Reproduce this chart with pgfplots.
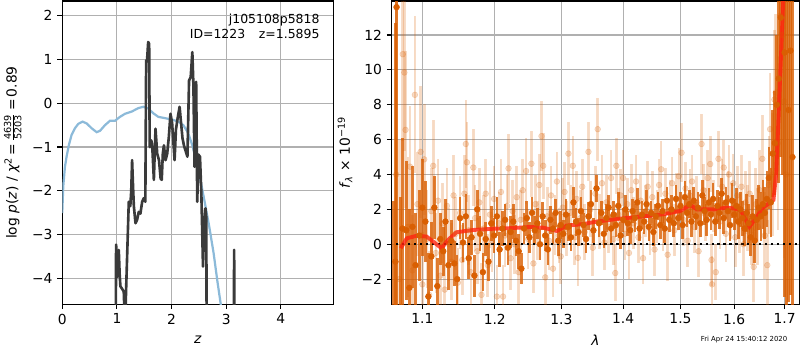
\documentclass[border=0pt]{standalone}
\usepackage{fontspec}
\setmainfont{DejaVu Sans}
\usepackage{amsmath}
\usepackage{pgfplots}
\pgfplotsset{compat=1.18}
\usepackage{pgfplotstable}

\definecolor{zblue}{RGB}{140,186,217}
\definecolor{zgray}{RGB}{58,58,58}
\definecolor{dorange}{RGB}{217,95,2}
\definecolor{gridc}{RGB}{176,176,176}
\definecolor{mred}{RGB}{255,35,15}

\pgfplotstableread{
z v
0.000 -2.51
0.018 -1.90
0.049 -1.45
0.079 -1.22
0.122 -0.95
0.171 -0.72
0.232 -0.57
0.293 -0.47
0.372 -0.42
0.446 -0.46
0.537 -0.57
0.629 -0.66
0.690 -0.63
0.781 -0.50
0.873 -0.40
0.964 -0.40
1.056 -0.31
1.148 -0.24
1.270 -0.19
1.392 -0.11
1.484 -0.08
1.575 -0.12
1.667 -0.23
1.758 -0.31
1.880 -0.34
2.003 -0.37
2.125 -0.42
2.216 -0.50
2.308 -0.69
2.387 -0.99
2.460 -1.37
2.540 -1.83
2.610 -2.28
2.690 -2.82
2.770 -3.43
2.840 -4.08
2.900 -4.59
2.950 -5.10
}\pztab

\pgfplotstableread{
z v
0.970 -8
0.985 -3.23
1.000 -3.50
1.015 -3.96
1.034 -3.35
1.050 -3.90
1.064 -4.18
1.100 -4.25
1.125 -4.30
1.145 -5.00
1.160 -4.60
1.217 -2.25
1.245 -2.35
1.262 -2.00
1.278 -1.30
1.295 -1.90
1.310 -2.35
1.340 -2.74
1.370 -2.66
1.400 -2.48
1.430 -2.52
1.462 -2.25
1.490 -2.17
1.520 -2.25
1.535 0.98
1.550 0.95
1.572 1.40
1.590 1.36
1.600 -1.00
1.630 -0.85
1.650 -1.07
1.676 -1.75
1.706 -0.58
1.737 -1.15
1.770 -1.30
1.800 -1.72
1.820 -1.75
1.840 -1.15
1.860 -0.96
1.890 -1.30
1.920 -1.15
1.950 -0.77
1.980 -0.24
2.010 -0.45
2.055 -1.30
2.080 -0.60
2.110 -0.35
2.147 -0.08
2.170 -0.40
2.200 -0.80
2.230 -0.98
2.260 -1.10
2.290 -1.22
2.320 0.52
2.350 0.60
2.380 1.17
2.400 0.40
2.420 -1.45
2.450 0.49
2.470 -2.25
2.490 -1.17
2.520 -1.22
2.545 -2.06
2.575 -3.73
2.600 -2.70
2.620 -2.40
2.635 -2.60
2.650 -8
3.130 -8
3.145 -3.35
3.160 -8
}\chitab

\pgfplotstableread{
l f e
1.0625 -8.0 10.5
1.0650 -1.0 13.7
1.0665 13.6 18
1.0715 -4.0 6.7
1.0740 0.9 5.2
1.0790 0.8 4.0
1.0830 -2.5 4.5
1.0870 1.0 3.5
1.0910 -1.2 3.0
1.0960 0.5 2.6
1.1000 2.1 2.8
1.1040 1.3 2.3
1.1080 -3.0 2.5
1.1120 -0.7 2.0
1.1160 2.1 1.8
1.1200 -2.4 1.6
1.1240 0.3 1.5
1.1280 -0.4 1.4
1.1310 1.3 1.3
1.1350 -1.2 1.4
1.1390 0.2 1.2
1.1430 -1.1 1.3
1.1470 -2.0 1.4
1.1510 1.5 1.2
1.1550 0.1 1.1
1.1590 1.6 1.3
1.1630 -0.8 1.2
1.1670 0.4 1.0
1.1710 -1.8 1.2
1.1750 2.0 1.1
1.1790 0.6 1.0
1.1830 -1.6 1.1
1.1870 0.3 1.0
1.1910 -1.0 1.1
1.1950 1.2 1.0
1.1990 0.5 1.0
1.2030 1.6 1.1
1.2070 -0.3 1.0
1.2110 0.9 1.0
1.2150 1.4 0.9
1.2190 -0.2 1.0
1.2230 0.7 0.9
1.2270 1.3 1.0
1.2310 0.2 0.9
1.2350 -0.4 1.0
1.2390 -1.4 0.9
1.2430 0.9 0.9
1.2470 1.5 1.0
1.2510 0.4 0.9
1.2550 1.8 0.9
1.2590 0.8 0.8
1.2630 1.2 0.9
1.2670 0.0 0.9
1.2710 1.6 0.8
1.2750 0.5 0.9
1.2790 -0.3 0.9
1.2830 1.4 0.8
1.2870 0.9 0.9
1.2910 1.8 0.8
1.2950 0.2 0.9
1.2990 1.1 0.8
1.3030 0.6 0.8
1.3070 1.7 0.9
1.3110 1.0 0.8
1.3150 0.4 0.8
1.3190 2.4 0.9
1.3230 1.3 0.8
1.3270 0.7 0.8
1.3310 1.9 0.8
1.3350 1.1 0.7
1.3390 0.3 0.8
1.3430 1.6 0.8
1.3470 2.3 0.8
1.3510 0.8 0.7
1.3560 3.2 0.8
1.3600 1.2 0.8
1.3640 1.8 0.7
1.3680 0.6 0.8
1.3720 1.5 0.8
1.3760 2.1 0.7
1.3800 0.9 0.8
1.3840 1.7 0.8
1.3880 1.1 0.7
1.3920 2.2 0.8
1.3960 0.5 0.8
1.4000 1.4 0.7
1.4040 2.0 0.8
1.4080 1.2 0.7
1.4120 0.8 0.8
1.4160 1.9 0.7
1.4200 1.5 0.8
1.4240 2.4 0.8
1.4280 0.9 0.7
1.4320 1.7 0.8
1.4360 1.3 0.7
1.4400 2.3 0.8
1.4440 1.0 0.8
1.4480 1.8 0.7
1.4520 0.7 0.8
1.4560 1.6 0.7
1.4600 2.2 0.8
1.4640 1.1 0.8
1.4680 1.9 0.7
1.4720 0.9 0.8
1.4760 2.5 0.8
1.4800 1.4 0.7
1.4840 2.0 0.8
1.4880 1.2 0.8
1.4920 2.6 0.8
1.4960 1.5 0.7
1.5000 2.2 0.8
1.5040 1.1 0.8
1.5080 2.7 0.9
1.5120 1.8 0.8
1.5160 2.3 0.8
1.5200 1.3 0.9
1.5240 2.5 0.8
1.5280 1.6 0.8
1.5320 2.1 0.9
1.5360 1.2 0.8
1.5400 2.8 0.9
1.5440 1.9 0.8
1.5480 1.4 0.9
1.5520 2.4 0.8
1.5560 1.7 0.9
1.5600 2.6 0.9
1.5640 1.3 0.8
1.5680 2.2 0.9
1.5720 1.8 0.9
1.5760 2.9 0.9
1.5800 1.5 0.9
1.5840 2.4 0.9
1.5880 1.9 0.9
1.5920 1.1 0.9
1.5960 2.5 1.0
1.6000 1.7 0.9
1.6040 2.2 1.0
1.6080 1.3 1.0
1.6120 2.0 1.0
1.6160 1.5 1.0
1.6200 0.9 1.0
1.6240 1.8 1.1
1.6280 1.2 1.1
1.6320 0.4 1.1
1.6360 1.6 1.2
1.6400 0.2 1.3
1.6440 1.4 1.2
1.6480 2.1 1.3
1.6520 1.6 1.4
1.6560 2.3 1.4
1.6600 1.8 1.5
1.6640 2.6 1.6
1.6680 3.8 1.8
1.6720 2.4 2.0
1.6760 5.2 2.5
1.6800 5.8 3.0
1.6840 8.0 4.0
1.6880 9.5 6.0
1.6920 13.0 8.0
1.6960 16.0 12
1.7000 11.0 14
1.7040 15.0 20
1.7080 7.7 11
1.7120 11.1 14
1.7160 5.0 15
}\dark

\pgfplotstableread{
l f e
1.0660 4.0 12
1.0700 -2.0 8
1.0744 10.9 5
1.0765 9.85 4.5
1.0780 6.56 4.5
1.0810 1.0 4
1.0838 4.45 3.5
1.0870 -1.5 3.2
1.0902 8.57 4.5
1.0935 2.3 3
1.0977 5.3 3.8
1.1000 -2.3 3
1.1025 4.87 3.2
1.1060 0.3 2.8
1.1090 -2.9 2.5
1.1120 1.9 2.5
1.1145 4.5 2.6
1.1180 -0.5 2.3
1.1210 2.5 2.4
1.1240 -1.8 2.2
1.1270 1.2 2.3
1.1300 -2.6 2.2
1.1330 2.2 2.2
1.1360 0.0 2.1
1.1390 -1.0 2.2
1.1420 2.8 2.3
1.1450 0.6 2.1
1.1480 -2.2 2.0
1.1510 1.8 2.1
1.1540 -0.9 2.0
1.1570 2.9 2.2
1.1590 5.75 2.5
1.1605 4.7 2.3
1.1630 0.8 2.0
1.1660 -1.6 2.0
1.1695 4.4 2.2
1.1720 1.5 1.9
1.1750 -0.4 1.9
1.1780 2.4 2.0
1.1810 -2.9 1.8
1.1840 0.9 1.9
1.1870 2.9 2.0
1.1900 -1.2 1.8
1.1930 1.7 1.9
1.1960 0.2 1.8
1.1990 2.6 1.9
1.2030 -3.0 1.8
1.2060 1.2 1.8
1.2090 3.0 1.9
1.2120 -3.0 1.8
1.2150 0.5 1.8
1.2180 2.2 1.8
1.2200 4.35 2.0
1.2230 -0.8 1.8
1.2260 1.9 1.8
1.2290 0.0 1.7
1.2320 2.7 1.8
1.2350 -1.6 1.8
1.2380 1.4 1.7
1.2410 3.1 1.8
1.2460 4.2 1.9
1.2490 0.3 1.7
1.2540 4.62 1.9
1.2570 -1.1 1.7
1.2600 2.3 1.7
1.2630 0.8 1.7
1.2660 3.4 1.8
1.2693 6.2 2.0
1.2720 4.5 1.9
1.2750 -1.9 1.7
1.2780 1.6 1.7
1.2810 0.2 1.7
1.2840 2.8 1.7
1.2870 -1.4 1.6
1.2900 1.1 1.7
1.2930 3.6 1.7
1.2960 0.5 1.6
1.2990 -0.7 1.6
1.3020 2.1 1.7
1.3050 3.0 1.7
1.3080 0.9 1.6
1.3110 5.2 1.8
1.3140 1.8 1.6
1.3180 4.5 1.7
1.3210 0.4 1.6
1.3240 2.6 1.6
1.3260 -0.78 1.6
1.3300 1.5 1.6
1.3330 3.3 1.6
1.3370 0.7 1.6
1.3430 5.3 1.7
1.3460 2.0 1.6
1.3500 -0.2 1.6
1.3540 2.9 1.6
1.3580 6.6 1.8
1.3610 1.3 1.6
1.3650 3.5 1.6
1.3690 0.1 1.6
1.3720 2.4 1.6
1.3760 1.0 1.5
1.3800 3.8 1.6
1.3840 0.3 1.5
1.3870 -1.65 1.6
1.3888 4.5 1.6
1.3920 1.7 1.5
1.3960 2.8 1.5
1.4000 3.8 1.6
1.4030 0.6 1.5
1.4070 2.3 1.5
1.4100 -0.5 1.5
1.4140 3.1 1.5
1.4180 1.2 1.5
1.4220 3.6 1.5
1.4260 0.4 1.5
1.4300 2.5 1.5
1.4340 -0.8 1.5
1.4380 1.9 1.5
1.4420 3.3 1.5
1.4460 0.9 1.5
1.4500 2.7 1.5
1.4540 -0.3 1.5
1.4580 1.6 1.5
1.4620 3.4 1.5
1.4656 4.3 1.6
1.4690 1.1 1.5
1.4730 2.9 1.5
1.4770 -0.6 1.5
1.4810 2.2 1.5
1.4850 3.5 1.5
1.4890 0.8 1.5
1.4930 2.6 1.5
1.4970 3.9 1.6
1.5020 5.25 1.7
1.5050 1.4 1.5
1.5090 3.2 1.5
1.5130 0.2 1.5
1.5170 2.8 1.5
1.5210 3.6 1.5
1.5250 1.0 1.5
1.5290 2.4 1.5
1.5330 -0.4 1.5
1.5386 5.75 1.7
1.5420 3.1 1.5
1.5460 1.7 1.5
1.5500 3.8 1.6
1.5546 4.6 1.6
1.5570 -0.9 1.5
1.5580 -2.3 1.6
1.5610 2.2 1.5
1.5650 -1.6 1.6
1.5700 4.9 1.6
1.5730 1.3 1.6
1.5770 3.3 1.6
1.5800 4.4 1.6
1.5840 0.6 1.6
1.5880 2.6 1.6
1.5900 4.0 1.7
1.5940 1.9 1.6
1.5980 3.5 1.7
1.6020 0.4 1.7
1.6060 2.8 1.7
1.6100 1.2 1.7
1.6140 3.3 1.8
1.6180 0.0 1.8
1.6220 2.4 1.8
1.6260 1.5 1.9
1.6300 2.9 1.9
1.6340 0.8 2.0
1.6380 -1.3 2.0
1.6420 2.3 2.1
1.6460 1.0 2.2
1.6500 3.1 2.3
1.6550 4.9 2.5
1.6600 0.5 2.5
1.6650 -1.2 2.6
1.6680 3.4 2.8
1.6706 6.6 3.2
1.6750 4.0 3.5
1.6792 8.3 4.0
1.6820 8.7 4.5
1.6860 5.8 5.0
1.6910 13.1 6.0
1.6950 12.0 7.0
1.6990 8.2 9.0
1.7030 4.0 12
}\light

\pgfplotstableread{
l f
1.0718 -0.23
1.0796 0.34
1.0927 0.49
1.1057 0.44
1.1145 0.15
1.1257 -0.23
1.1346 0.25
1.1462 0.69
1.1696 0.82
1.1979 0.89
1.2271 0.93
1.2519 0.99
1.2721 0.95
1.2928 0.76
1.3085 1.07
1.3349 1.16
1.3568 1.30
1.3900 1.45
1.4406 1.62
1.4697 1.72
1.4996 1.91
1.5177 2.26
1.5300 2.00
1.5610 2.00
1.5865 2.10
1.6115 2.00
1.6296 1.00
1.6441 1.58
1.6573 2.12
1.6774 2.54
1.6829 4.07
1.6876 7.30
1.6944 12.1
1.6977 14.5
1.7000 17.0
}\model

\pgfplotsset{mpl/.style={
  scale only axis,
  axis line style={line width=0.8pt},
  grid=major,
  major grid style={gridc, line width=0.8pt},
  tick style={black, line width=0.8pt},
  major tick length=3.5pt,
  tick align=outside,
  xtick pos=left, ytick pos=left,
  ticklabel style={font=\fontsize{10}{12}\selectfont},
  label style={font=\fontsize{10}{12}\selectfont},
}}

\begin{document}
\begin{tikzpicture}
\useasboundingbox (0,0) rectangle (578.16pt,252.95pt);

\begin{axis}[mpl,
  at={(45.0pt,33.2pt)}, anchor=south west,
  width=195.9pt, height=219.0pt,
  xmin=0, xmax=4.96, ymin=-4.587, ymax=2.336,
  xtick={0,1,2,3,4}, xticklabels={0,1,2,3,4},
  ytick={-4,-3,-2,-1,0,1,2}, yticklabels={−4,−3,−2,−1,0,1,2},
  xlabel={\textit{z}},
  ylabel={log \textit{p}(\textit{z}) / \textit{χ}\textsuperscript{2}\,=\,$\frac{\text{4639}}{\text{5203}}$\,=\,0.89},
  every axis x label/.style={at={(axis description cs:0.5,-0.118)}, anchor=center},
  every axis y label/.style={at={(axis description cs:-0.183,0.5)}, anchor=center, rotate=90},
]
\addplot[zblue, line width=1.6pt] table[x=z,y=v]{\pztab};
\addplot[zgray, line width=1.9pt, line join=round] table[x=z,y=v]{\chitab};
\node[anchor=north east, align=right, font=\fontsize{9}{11}\selectfont, inner sep=0pt] at (rel axis cs:0.95,0.958) {j105108p5818\\ID=1223\hspace{1.1em}z=1.5895};
\end{axis}

\begin{axis}[mpl,
  at={(283.1pt,33.2pt)}, anchor=south west,
  width=294.4pt, height=219.0pt,
  xmode=log,
  xmin=1.0603, xmax=1.7298, ymin=-3.43, ymax=13.95,
  xtick={1.1,1.2,1.3,1.4,1.5,1.6,1.7}, xticklabels={1.1,1.2,1.3,1.4,1.5,1.6,1.7},
  minor xtick={},
  ytick={-2,0,2,4,6,8,10,12}, yticklabels={−2,0,2,4,6,8,10,12},
  xlabel={\textit{λ}},
  ylabel={\textit{f}\textsubscript{\textit{λ}} × 10\textsuperscript{−19}},
  every axis x label/.style={at={(axis description cs:0.5,-0.118)}, anchor=center},
  every axis y label/.style={at={(axis description cs:-0.1147,0.5)}, anchor=center, rotate=90},
]
\addplot[only marks, mark=*, mark size=2.1pt, draw=dorange, fill=dorange,
  mark options={opacity=0.22},
  error bars/.cd, y dir=both, y explicit, error mark=none,
  error bar style={line width=1.9pt, draw=dorange, opacity=0.22}]
  table[x=l,y=f,y error=e]{\light};
\addplot[only marks, mark=*, mark size=2.1pt, draw=dorange, fill=dorange,
  error bars/.cd, y dir=both, y explicit, error mark=none,
  error bar style={line width=1.9pt, draw=dorange, opacity=0.8}]
  table[x=l,y=f,y error=e]{\dark};
\addplot[black, line width=1.6pt, dash pattern=on 1.6pt off 2.7pt] coordinates {(1.066,0) (1.727,0)};
\addplot[mred, line width=2.8pt, opacity=0.8] table[x=l,y=f]{\model};
\end{axis}

\node[font=\fontsize{5}{6}\selectfont] at (537.7pt,7.7pt) {Fri Apr 24 15:40:12 2020};
\end{tikzpicture}
\end{document}
